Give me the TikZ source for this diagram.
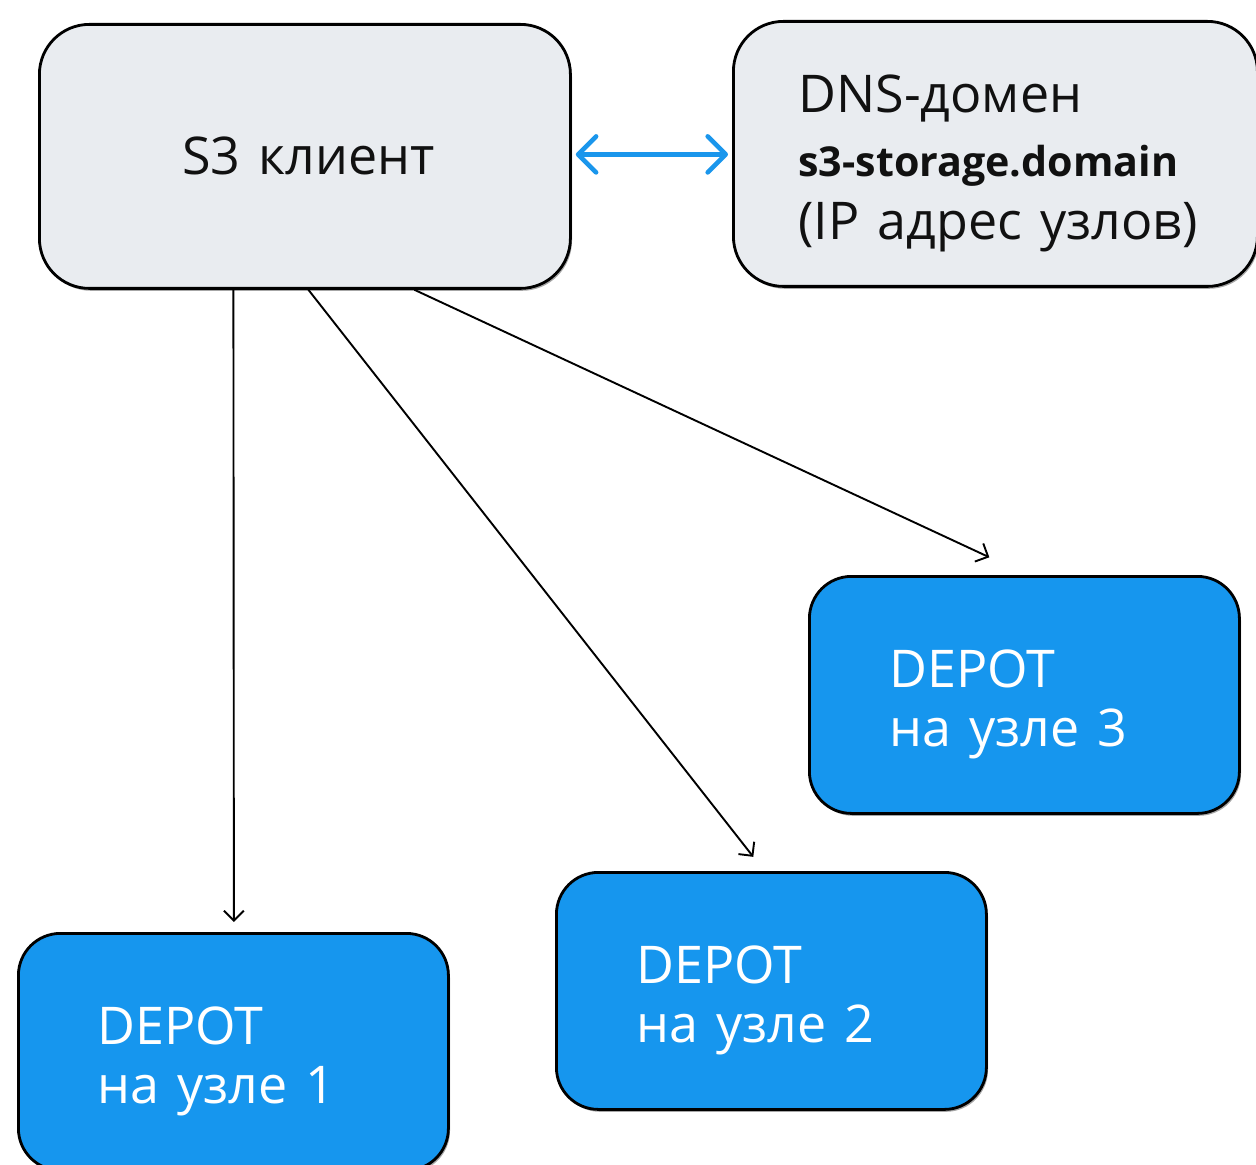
\documentclass[tikz,border=0pt]{standalone}
\usepackage{fontspec}
\setmainfont{Open Sans}[WordSpace=1.35]
\usetikzlibrary{arrows.meta,shadows}
\definecolor{boxgray}{HTML}{E9ECF0}
\definecolor{depotblue}{HTML}{1696EE}
\definecolor{linkblue}{HTML}{1A96EC}
\definecolor{txtdark}{HTML}{111111}
\begin{document}
\begin{tikzpicture}[x=0.5pt,y=-0.5pt,
  box/.style={draw=black, line width=1.4pt, inner sep=0pt, anchor=north west,
    drop shadow={shadow xshift=0.8pt, shadow yshift=-1.2pt, opacity=0.35, fill=black}},
  graybox/.style={box, fill=boxgray, rounded corners=25pt},
  bluebox/.style={box, fill=depotblue, rounded corners=21pt, minimum width=215pt, minimum height=118.5pt},
  lbl/.style={inner sep=0pt, anchor=base west, font=\fontsize{26pt}{31pt}\selectfont},
  darklbl/.style={lbl, text=txtdark},
  whitelbl/.style={lbl, text=white},
  boldlbl/.style={inner sep=0pt, anchor=base west, text=txtdark, font=\fontsize{20.6pt}{25pt}\selectfont\bfseries},
  conn/.style={draw=black, line width=0.95pt, -{Straight Barb[length=5pt,width=10pt,line width=0.95pt]}},
  dnslink/.style={draw=linkblue, line width=2.3pt, line cap=round,
    {Straight Barb[length=9pt,width=18pt,line width=2.3pt,line cap=round,line join=round]}-{Straight Barb[length=9pt,width=18pt,line width=2.3pt,line cap=round,line join=round]}}
]
\useasboundingbox (0,0) rectangle (1256,1165);
\begin{scope}
\clip (0,0) rectangle (1256,1165);
% boxes
\node[graybox, minimum width=265.5pt, minimum height=132pt] (client) at (38,23) {};
\node[graybox, minimum width=262pt, minimum height=132.5pt] (dns) at (732,20) {};
\node[bluebox] (d3) at (808,575) {};
\node[bluebox] (d2) at (555,871) {};
\node[bluebox] (d1) at (17,932) {};
\end{scope}
% texts
\node[darklbl] (clientlbl) at (182,175) {S3 клиент};
\node[darklbl] (dnsa) at (798,113) {DNS-домен};
\node[boldlbl] (dnsb) at (798,177) {s3-storage.domain};
\node[darklbl] (dnsc) at (798,240) {(IP адрес узлов)};
\node[whitelbl] (d3a) at (889,687) {DEPOT};
\node[whitelbl] (d3b) at (889,746) {на узле 3};
\node[whitelbl] (d2a) at (636,983) {DEPOT};
\node[whitelbl] (d2b) at (636,1042) {на узле 2};
\node[whitelbl] (d1a) at (97,1044) {DEPOT};
\node[whitelbl] (d1b) at (97,1103) {на узле 1};
% connectors
\draw[dnslink, shorten <=2pt, shorten >=2pt] ([yshift=1pt]client.east) -- ([yshift=1pt]client.east -| dns.west);
\draw[conn, shorten >=5pt] ([xshift=-35.75pt]client.south) -- ([xshift=0.25pt]d1.north);
\draw[conn, shorten >=9pt] ([xshift=1.75pt]client.south) -- ([xshift=-3.5pt]d2.north);
\draw[conn, shorten >=21pt] ([xshift=54.75pt]client.south) -- ([xshift=1.5pt]d3.north);
\end{tikzpicture}
\end{document}
